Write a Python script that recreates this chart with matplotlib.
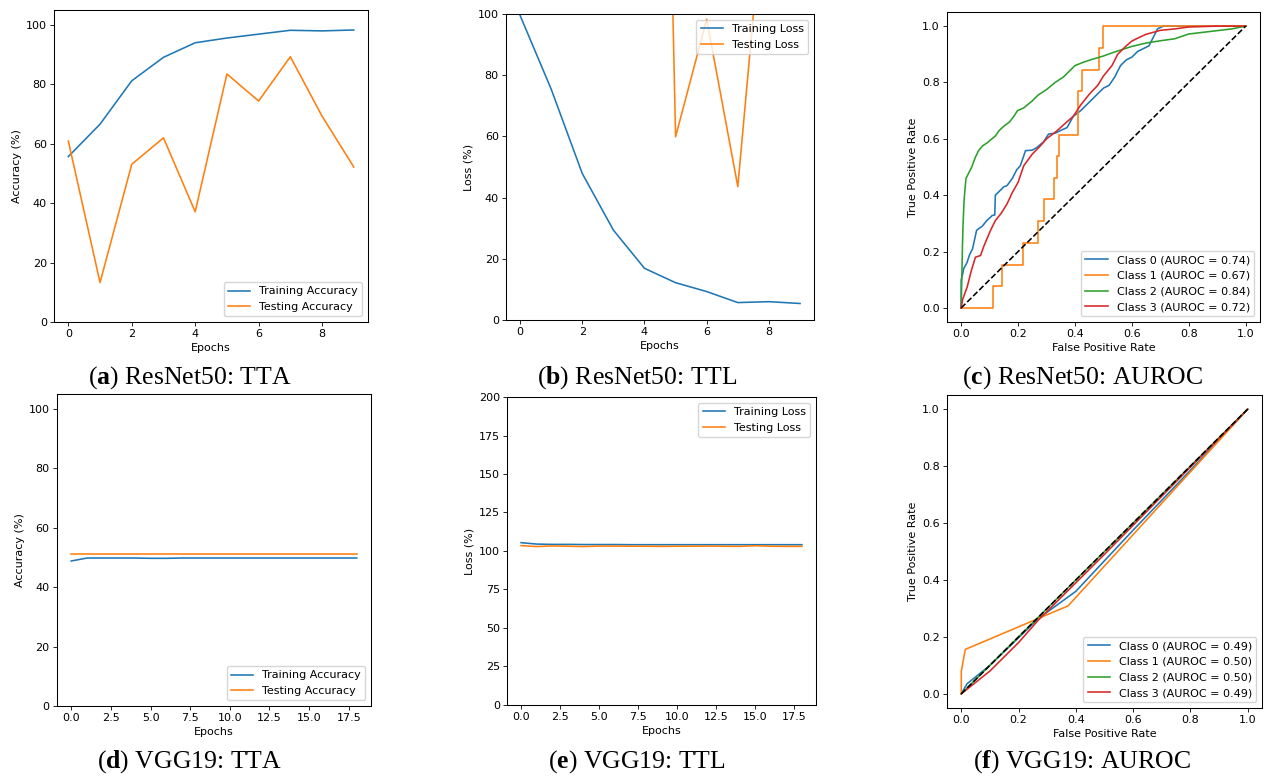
import numpy as np
import matplotlib.pyplot as plt

# ResNet50 train / test accuracy and loss (10 epochs)
res_epochs = list(range(10))
res_train_acc = [55.7, 66.6, 81.2, 89.1, 94.0, 95.6, 96.9, 98.2, 98.0, 98.3]
res_test_acc = [60.9, 13.3, 53.1, 62.0, 37.1, 83.5, 74.4, 89.3, 69.3, 52.2]
res_train_loss = [99.6, 75.5, 47.9, 29.4, 16.9, 12.2, 9.3, 5.7, 6.0, 5.4]
res_test_loss = [180.0, 260.0, 220.0, 310.0, 526.0, 59.9, 98.3, 43.6, 156.0, 170.0]

# VGG19 train / test accuracy and loss (19 epochs)
vgg_epochs = list(range(19))
vgg_train_acc = [48.8, 49.8, 49.8, 49.8, 49.8, 49.7, 49.7, 49.8, 49.8, 49.8,
                 49.8, 49.8, 49.8, 49.8, 49.8, 49.8, 49.8, 49.8, 49.8]
vgg_test_acc = [51.1] * 19
vgg_train_loss = [105.4, 104.5, 104.3, 104.3, 104.2, 104.2, 104.2, 104.1, 104.1, 104.1,
                  104.1, 104.1, 104.1, 104.1, 104.1, 104.1, 104.1, 104.1, 104.1]
vgg_test_loss = [103.5, 102.9, 103.3, 103.1, 102.9, 103.2, 103.2, 103.1, 103.1, 103.0,
                 103.1, 103.1, 103.2, 103.1, 103.0, 103.4, 103.1, 103.0, 103.0]

# ResNet50 ROC curves
res_fpr0 = [0, 0.0, 0.005, 0.009, 0.02, 0.03, 0.04, 0.054, 0.06, 0.074, 0.09, 0.109, 0.118, 0.12,
            0.13, 0.15, 0.161, 0.18, 0.195, 0.208, 0.226, 0.25, 0.267, 0.29, 0.307, 0.33, 0.35,
            0.372, 0.394, 0.42, 0.44, 0.46, 0.48, 0.50, 0.52, 0.54, 0.56, 0.58, 0.60, 0.62, 0.64,
            0.66, 0.675, 0.69, 0.71, 1.0]
res_tpr0 = [0, 0.10, 0.12, 0.14, 0.16, 0.19, 0.21, 0.275, 0.28, 0.29, 0.31, 0.328, 0.33, 0.40,
            0.41, 0.43, 0.434, 0.46, 0.49, 0.505, 0.558, 0.56, 0.57, 0.59, 0.617, 0.62, 0.63,
            0.64, 0.68, 0.70, 0.72, 0.74, 0.76, 0.78, 0.79, 0.82, 0.86, 0.88, 0.89, 0.91, 0.92,
            0.93, 0.96, 0.99, 1.0, 1.0]
res_fpr1 = [0, 0.113, 0.113, 0.145, 0.145, 0.218, 0.218, 0.269, 0.269, 0.292, 0.292, 0.326, 0.326,
            0.337, 0.337, 0.343, 0.343, 0.412, 0.412, 0.423, 0.423, 0.483, 0.483, 0.497, 0.497, 1.0]
res_tpr1 = [0, 0, 0.077, 0.077, 0.154, 0.154, 0.231, 0.231, 0.308, 0.308, 0.385, 0.385, 0.462,
            0.462, 0.538, 0.538, 0.615, 0.615, 0.769, 0.769, 0.846, 0.846, 0.923, 0.923, 1.0, 1.0]
res_fpr2 = [0, 0.002, 0.004, 0.006, 0.01, 0.015, 0.017, 0.027, 0.037, 0.05, 0.061, 0.075, 0.09,
            0.103, 0.12, 0.133, 0.15, 0.17, 0.185, 0.198, 0.22, 0.25, 0.27, 0.3, 0.33, 0.36, 0.4,
            0.43, 0.46, 0.5, 0.53, 0.56, 0.6, 0.65, 0.7, 0.75, 0.8, 0.85, 0.9, 0.95, 1.0]
res_tpr2 = [0, 0.10, 0.20, 0.28, 0.38, 0.44, 0.46, 0.48, 0.50, 0.535, 0.558, 0.575, 0.585,
            0.596, 0.61, 0.629, 0.645, 0.66, 0.68, 0.70, 0.71, 0.735, 0.755, 0.775, 0.80, 0.82,
            0.86, 0.872, 0.882, 0.894, 0.905, 0.915, 0.928, 0.94, 0.948, 0.955, 0.972, 0.978,
            0.984, 0.99, 1.0]
res_fpr3 = [0, 0.005, 0.021, 0.035, 0.05, 0.068, 0.08, 0.103, 0.12, 0.14, 0.161, 0.18, 0.2, 0.22,
            0.25, 0.278, 0.3, 0.337, 0.36, 0.394, 0.42, 0.45, 0.48, 0.5, 0.53, 0.55, 0.58, 0.6,
            0.63, 0.65, 0.7, 0.75, 0.8, 0.9, 1.0]
res_tpr3 = [0, 0.03, 0.074, 0.13, 0.18, 0.186, 0.22, 0.275, 0.31, 0.335, 0.369, 0.41, 0.446,
            0.505, 0.546, 0.575, 0.6, 0.629, 0.65, 0.68, 0.72, 0.758, 0.79, 0.823, 0.86, 0.9,
            0.93, 0.947, 0.962, 0.971, 0.985, 0.99, 0.997, 1.0, 1.0]

# VGG19 ROC curves
vgg_fpr0 = [0, 0.02, 0.1, 0.27, 0.4, 0.6, 0.8, 1.0]
vgg_tpr0 = [0, 0.035, 0.1, 0.265, 0.36, 0.575, 0.785, 1.0]
vgg_fpr1 = [0, 0, 0.014, 0.373, 1.0]
vgg_tpr1 = [0, 0.078, 0.156, 0.309, 1.0]
vgg_fpr2 = [0, 1.0]
vgg_tpr2 = [0, 1.0]
vgg_fpr3 = [0, 0.1, 0.2, 0.27, 0.5, 1.0]
vgg_tpr3 = [0, 0.08, 0.18, 0.26, 0.49, 1.0]

res_auc = [0.74, 0.67, 0.84, 0.72]
vgg_auc = [0.49, 0.50, 0.50, 0.49]

plt.rcParams['font.size'] = 8
plt.rcParams['lines.linewidth'] = 1.15
plt.rcParams['axes.linewidth'] = 0.75
plt.rcParams['xtick.major.size'] = 2.6
plt.rcParams['ytick.major.size'] = 2.6
plt.rcParams['xtick.major.width'] = 0.6
plt.rcParams['ytick.major.width'] = 0.6
plt.rcParams['xtick.major.pad'] = 2.6
plt.rcParams['ytick.major.pad'] = 2.6
plt.rcParams['axes.labelpad'] = 3
plt.rcParams['mathtext.fontset'] = 'custom'
plt.rcParams['mathtext.rm'] = 'Liberation Serif'
plt.rcParams['mathtext.bf'] = 'Liberation Serif:bold'

fig = plt.figure(figsize=(12.66, 7.76), dpi=100)

ax_a = fig.add_axes([0.0427, 0.585, 0.2480, 0.402])
ax_b = fig.add_axes([0.3997, 0.5876, 0.2433, 0.3943])
ax_c = fig.add_axes([0.7480, 0.585, 0.2472, 0.3995])
ax_d = fig.add_axes([0.0450, 0.0902, 0.2480, 0.4021])
ax_e = fig.add_axes([0.4005, 0.0915, 0.2440, 0.3969])
ax_f = fig.add_axes([0.7480, 0.0876, 0.2488, 0.4034])

# accuracy panels
for ax, ep, tr, te in [(ax_a, res_epochs, res_train_acc, res_test_acc),
                       (ax_d, vgg_epochs, vgg_train_acc, vgg_test_acc)]:
    ax.plot(ep, tr, label='Training Accuracy')
    ax.plot(ep, te, label='Testing Accuracy')
    ax.set_ylim(0, 105)
    ax.set_xlabel('Epochs')
    ax.set_ylabel('Accuracy (%)')
    ax.legend(loc='lower right')

# loss panels
ax_b.plot(res_epochs, res_train_loss, label='Training Loss')
ax_b.plot(res_epochs, res_test_loss, label='Testing Loss')
ax_b.set_ylim(0, 100)
ax_e.plot(vgg_epochs, vgg_train_loss, label='Training Loss')
ax_e.plot(vgg_epochs, vgg_test_loss, label='Testing Loss')
ax_e.set_ylim(0, 200)
for ax in [ax_b, ax_e]:
    ax.set_xlabel('Epochs')
    ax.set_ylabel('Loss (%)')
    ax.legend(loc='upper right')

# ROC panels
res_roc = [(res_fpr0, res_tpr0), (res_fpr1, res_tpr1), (res_fpr2, res_tpr2), (res_fpr3, res_tpr3)]
vgg_roc = [(vgg_fpr0, vgg_tpr0), (vgg_fpr1, vgg_tpr1), (vgg_fpr2, vgg_tpr2), (vgg_fpr3, vgg_tpr3)]
for ax, roc, aucs in [(ax_c, res_roc, res_auc), (ax_f, vgg_roc, vgg_auc)]:
    for i, (f, t) in enumerate(roc):
        ax.plot(f, t, label='Class %d (AUROC = %.2f)' % (i, aucs[i]))
    ax.plot([0, 1], [0, 1], 'k--')
    ax.set_xlabel('False Positive Rate')
    ax.set_ylabel('True Positive Rate')
    ax.legend(loc='lower right')

# sub-captions
captions = [('a', 'ResNet50: TTA', 0.150, 0.506), ('b', 'ResNet50: TTL', 0.503, 0.506),
            ('c', 'ResNet50: AUROC', 0.855, 0.506), ('d', 'VGG19: TTA', 0.150, 0.011),
            ('e', 'VGG19: TTL', 0.503, 0.011), ('f', 'VGG19: AUROC', 0.855, 0.011)]
for letter, txt, x, y in captions:
    fig.text(x, y, '(' + r'$\mathbf{%s}$' % letter + ') ' + txt, ha='center', va='baseline',
             fontsize=18.5, family='Liberation Serif')

plt.savefig('out.png', dpi=100)
